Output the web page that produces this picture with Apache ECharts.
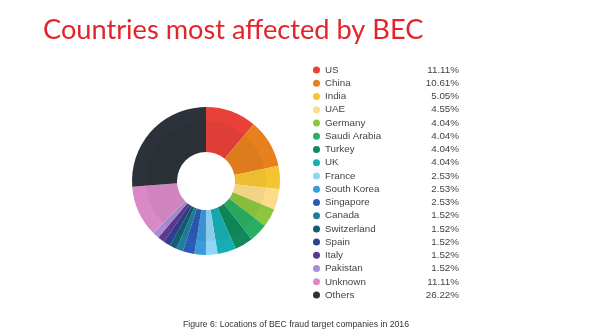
<!DOCTYPE html>
<html><head><meta charset="utf-8">
<script src="https://cdn.jsdelivr.net/npm/echarts@6/dist/echarts.min.js"></script>
<style>html,body{margin:0;padding:0;background:#fff}#c{width:600px;height:336px}</style>
</head><body><div id="c"></div>
<script>
const countries = ['US','China','India','UAE','Germany','Saudi Arabia','Turkey','UK','France','South Korea','Singapore','Canada','Switzerland','Spain','Italy','Pakistan','Unknown','Others'];
const shares = [11.11,10.61,5.05,4.55,4.04,4.04,4.04,4.04,2.53,2.53,2.53,1.52,1.52,1.52,1.52,1.52,11.11,26.22];
const colors = ['#e8413a','#e8801e','#f5c531','#fcdc88','#8cc63e','#2aae62','#108a5c','#17aeb3','#8fd5f5','#3b9ad9','#2c5ab8','#1f7f9b','#125e6e','#2f3e8f','#5b3a8f','#aa8dd2','#d98ac6','#2d3139'];
const titleText = 'Countries most affected by BEC';
const captionText = 'Figure 6: Locations of BEC fraud target companies in 2016';

const data = countries.map((n,i)=>({name:n,value:shares[i],itemStyle:{color:colors[i]}}));
const valueOf = {}; countries.forEach((n,i)=>valueOf[n]=shares[i].toFixed(2)+'%');

const chart = echarts.init(document.getElementById('c'));
chart.setOption({
  animation:false,
  title:[{text:titleText,left:38,top:12,textStyle:{fontFamily:'Lato',fontWeight:'normal',fontSize:27.2,color:'#e3242b'}},
         {text:captionText,left:178,top:315,textStyle:{fontFamily:'Liberation Sans',fontWeight:'normal',fontSize:8.7,color:'#333'}}],
  legend:{orient:'vertical',left:308,top:60,icon:'circle',itemWidth:7,itemHeight:7,itemGap:3.24,
    data:countries,
    formatter:n=>'{n|'+n+'}{v|'+valueOf[n]+'}',
    textStyle:{fontFamily:'Liberation Sans',fontSize:10,color:'#444',
      rich:{n:{width:80,fontSize:9.8,color:'#444',fontFamily:'Liberation Sans'},
            v:{width:54,align:'right',fontSize:9.8,color:'#444',fontFamily:'Liberation Sans'}}}},
  series:[
    {type:'pie',center:[206,181],radius:[29,74],startAngle:90,clockwise:true,label:{show:false},labelLine:{show:false},
     silent:true,data:data},
    {type:'pie',center:[206,181],radius:[29,60],startAngle:90,clockwise:true,label:{show:false},labelLine:{show:false},
     silent:true,legendHoverLink:false,
     data:countries.map((n,i)=>({name:n+' ',value:shares[i],itemStyle:{color:'rgba(0,0,0,0.04)'}}))}
  ]
});
</script></body></html>
